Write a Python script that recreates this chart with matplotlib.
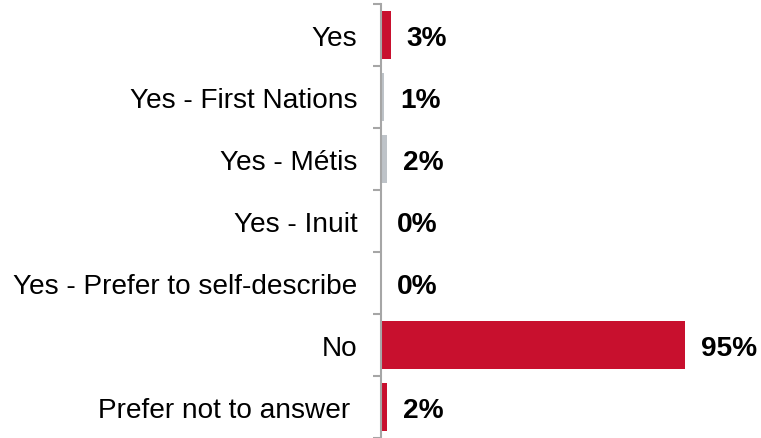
import numpy as np
from matplotlib import pyplot as plt

categories = ['Yes', 'Yes - First Nations', 'Yes - Métis', 'Yes - Inuit',
              'Yes - Prefer to self-describe', 'No', 'Prefer not to answer ']
values = [3, 1, 2, 0, 0, 95, 2]
labels = ['3%', '1%', '2%', '0%', '0%', '95%', '2%']
colors = ['#C8102E', '#BEC3C8', '#BEC3C8', '#BEC3C8', '#BEC3C8', '#C8102E', '#C8102E']

plt.rcParams['font.family'] = ['Liberation Sans', 'DejaVu Sans']

fig = plt.figure(figsize=(7.61, 4.39), dpi=100)
ax = fig.add_axes([381 / 761, 0.0, 1 - 381 / 761, 434 / 439])

y = np.arange(len(categories))
ax.barh(y, values, height=0.77, color=colors)

for yi, v, lab in zip(y, values, labels):
    ax.annotate(lab, (v, yi), xytext=(11.5, -2.5), textcoords='offset points',
                ha='left', va='center', fontsize=20.2, fontweight='bold',
                annotation_clip=False)

ax.set_xlim(0, 118.75)
ax.set_ylim(len(categories) - 0.5, -0.5)

#category labels, no major tick marks
ax.set_yticks(y)
ax.set_yticklabels(categories, fontsize=20.2)
ax.tick_params(axis='y', which='major', length=0, pad=17)

#small ticks at the category boundaries
ax.set_yticks(np.arange(-0.5, len(categories)), minor=True)
ax.tick_params(axis='y', which='minor', length=6, width=1.5, color='#A6A6A6')

ax.set_xticks([])
for s in ['top', 'right', 'bottom']:
    ax.spines[s].set_visible(False)
ax.spines['left'].set_color('#A6A6A6')
ax.spines['left'].set_linewidth(1.5)

plt.savefig('out.png', dpi=100)
